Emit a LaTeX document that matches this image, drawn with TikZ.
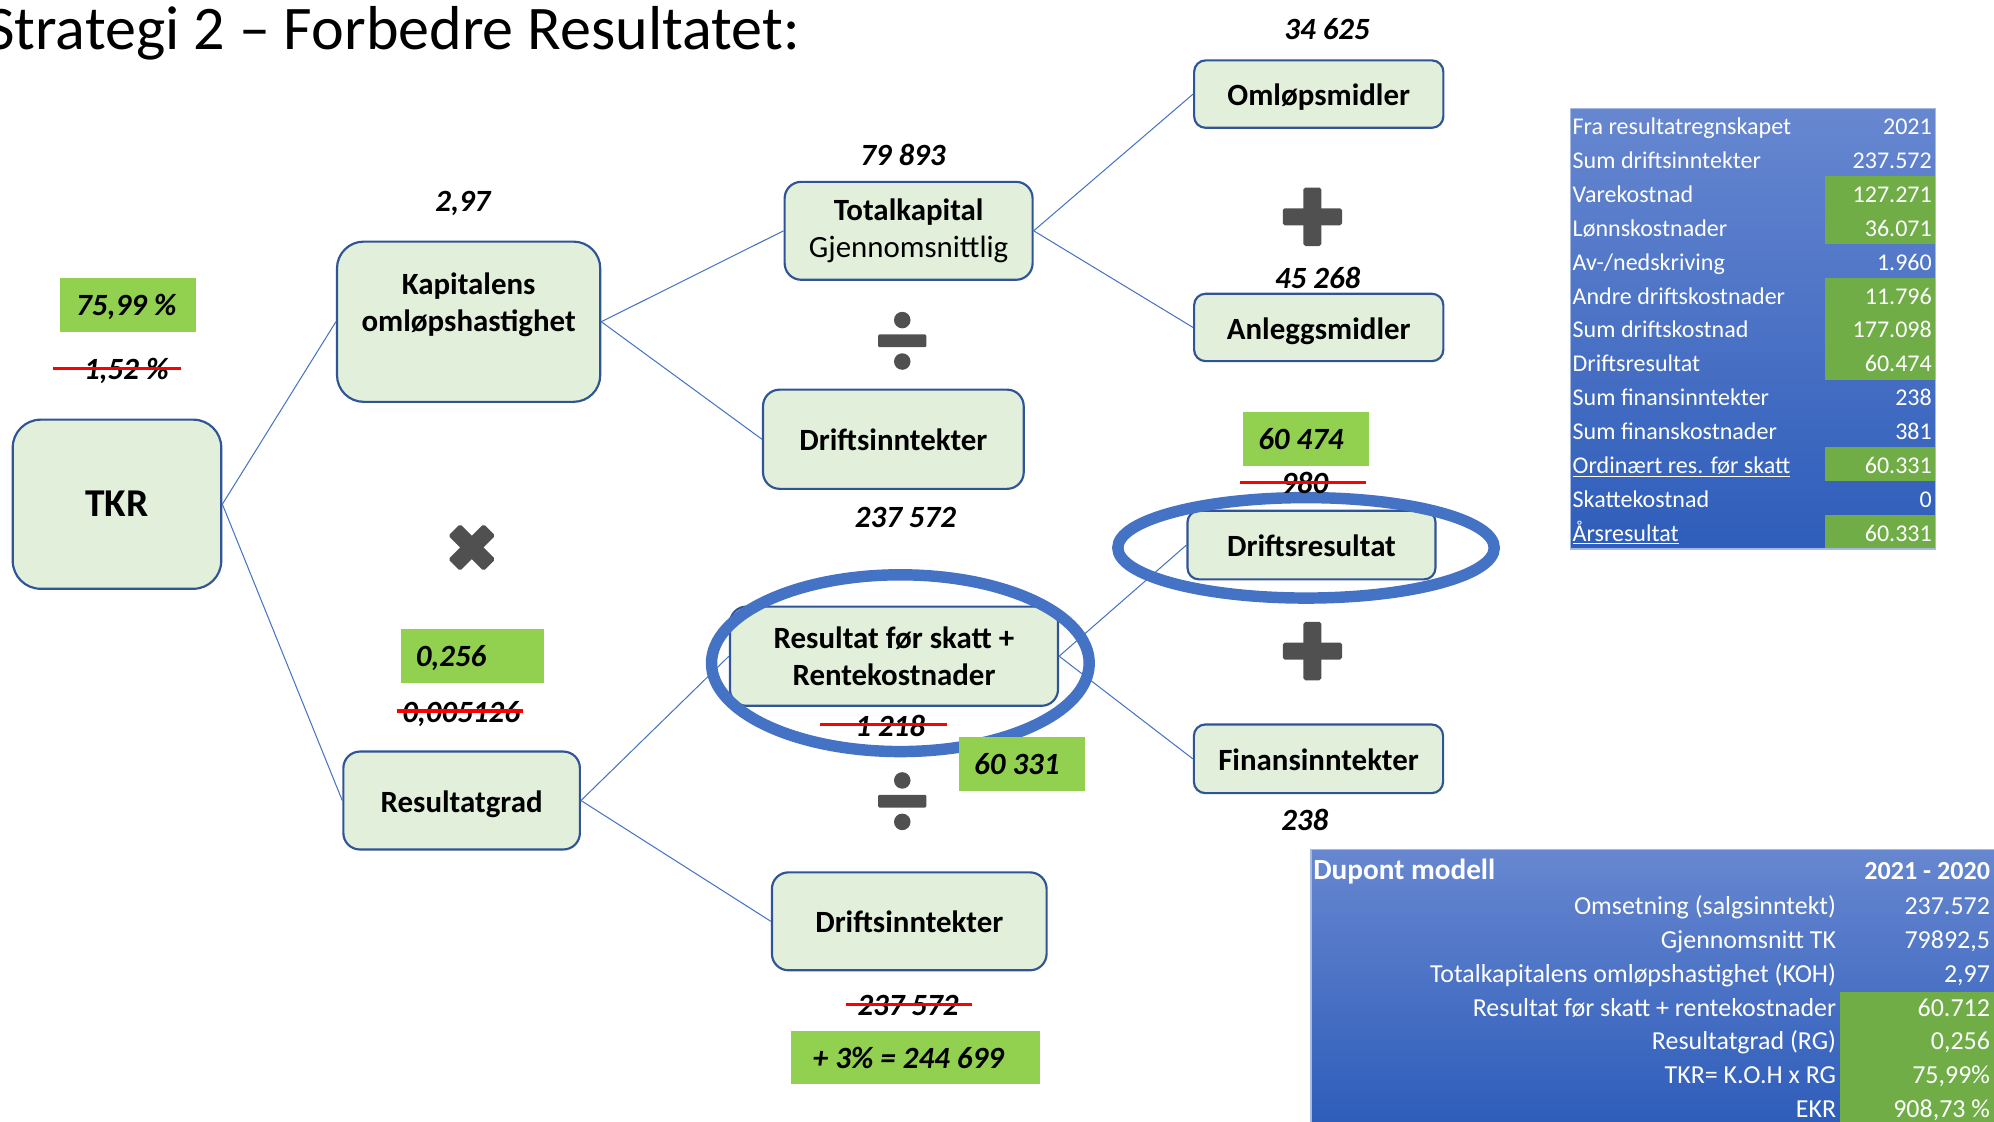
\documentclass[tikz,border=0pt]{standalone}
\usepackage{fontspec}
\setmainfont{Carlito}
\definecolor{boxgreen}{RGB}{226,239,218}
\definecolor{boxblue}{RGB}{47,85,151}
\definecolor{linkblue}{RGB}{68,114,196}
\definecolor{labgreen}{RGB}{146,208,80}
\definecolor{tabgreen}{RGB}{112,173,71}
\definecolor{opgray}{RGB}{80,80,80}
\definecolor{tabtop}{RGB}{103,135,208}
\definecolor{tabbot}{RGB}{46,93,186}
\definecolor{tabedge}{RGB}{165,185,225}
\newcommand\nodefont{\fontsize{24.3}{29}\selectfont\bfseries}
\newcommand\labfont{\fontsize{24.3}{28}\selectfont\bfseries\itshape}
\tikzset{
 plussym/.pic={
  \fill[opgray, rounded corners=1.5pt] (-7,-23) rectangle (7,23);
  \fill[opgray, rounded corners=1.5pt] (-23.3,-6.7) rectangle (23.3,6.7);
 },
 divsym/.pic={
  \fill[opgray, rounded corners=1pt] (-19,-5) rectangle (19,5);
  \fill[opgray] (0,-16.3) circle (6.5pt);
  \fill[opgray] (0,16.3) circle (6.5pt);
 },
 mulsym/.pic={
  \begin{scope}[rotate=45]
  \fill[opgray, rounded corners=1.5pt] (-6.5,-19.6) rectangle (6.5,19.6);
  \fill[opgray, rounded corners=1.5pt] (-19.6,-6.5) rectangle (19.6,6.5);
  \end{scope}
 }
}
\begin{document}
\begin{tikzpicture}[x=1pt,y=-1pt,
  box/.style={draw=boxblue, line width=1.7pt, fill=boxgreen, inner sep=0pt, align=center, font=\nodefont},
  one/.style={text height=18.2pt, text depth=0pt},
  link/.style={draw=linkblue, line width=0.8pt},
  lab/.style={font=\labfont, inner sep=0pt, text height=15.6pt, text depth=0pt},
  glab/.style={fill=labgreen, inner sep=0pt},
  strike/.style={draw=red, line width=2.6pt},
  ring/.style={draw=linkblue, line width=9pt},
  tabtxt/.style={text=white, inner sep=0pt, font=\fontsize{18.9}{22}\selectfont},
  dutxt/.style={text=white, inner sep=0pt, font=\fontsize{20.4}{24}\selectfont}
]
\useasboundingbox (0,0) rectangle (1568,882);

% title
\node[anchor=base west, inner sep=0pt, font=\fontsize{48.8}{56}\selectfont] (title) at (-11,39) {Strategi 2 – Forbedre Resultatet:};

% boxes
\node[box, minimum width=164pt, minimum height=133pt, rounded corners=22pt, font=\fontsize{31}{36}\selectfont\bfseries, text height=20pt, text depth=0pt] (tkr) at (92,396.5) {TKR};
\node[box, minimum width=207pt, minimum height=126pt, rounded corners=21pt] (kap) at (368.5,253) {};
\node[font=\nodefont, align=center, inner sep=0pt] (kaptxt) at (368.5,240) {Kapitalens\\omløpshastighet};
\node[box, minimum width=195pt, minimum height=77pt, rounded corners=13pt] (tot) at (714.5,181.5) {Totalkapital\\\mdseries Gjennomsnittlig};
\node[box, one, minimum width=205pt, minimum height=78pt, rounded corners=13pt] (din1) at (702.5,345.4) {Driftsinntekter};
\node[box, one, minimum width=196pt, minimum height=53pt, rounded corners=9pt] (oml) at (1037,74) {Omløpsmidler};
\node[box, one, minimum width=196pt, minimum height=53pt, rounded corners=9pt] (anl) at (1037,257.5) {Anleggsmidler};
\node[box, one, minimum width=195pt, minimum height=54pt, rounded corners=9pt] (dres) at (1031.3,428.6) {Driftsresultat};
\node[box, minimum width=258pt, minimum height=78pt, rounded corners=13pt] (res) at (703,516) {Resultat før skatt +\\Rentekostnader};
\node[box, one, minimum width=196pt, minimum height=54pt, rounded corners=9pt] (fin) at (1036.8,596.7) {Finansinntekter};
\node[box, one, minimum width=186pt, minimum height=77pt, rounded corners=13pt] (rg) at (363,629.5) {Resultatgrad};
\node[box, one, minimum width=216pt, minimum height=77pt, rounded corners=13pt] (din2) at (715,724.5) {Driftsinntekter};

% connectors
\draw[link] (tkr.east) -- (kap.west);
\draw[link] (tkr.east) -- (rg.west);
\draw[link] (kap.east) -- (tot.west);
\draw[link] (kap.east) -- (din1.west);
\draw[link] (tot.east) -- (oml.west);
\draw[link] (tot.east) -- (anl.west);
\draw[link] (rg.east) -- (res.west);
\draw[link] (rg.east) -- (din2.west);
\draw[link] (res.east) -- (dres.west);
\draw[link] (res.east) -- (fin.west);

% operators
\pic at (1032,170.5) {plussym};
\pic at (1032,512) {plussym};
\pic at (709.5,268) {divsym};
\pic at (709.5,630) {divsym};
\pic at (371,430.5) {mulsym};

% rings
\draw[ring] (708,521.5) ellipse [x radius=148.5pt, y radius=69.5pt];
\draw[ring] (1027,430.8) ellipse [x radius=148pt, y radius=39.5pt];

% plain labels
\node[lab] (v297) at (364,158.5) {2,97};
\node[lab] (v79893) at (710,122.5) {79 893};
\node[lab] (v34625) at (1043.6,23) {34 625};
\node[lab] (v45268) at (1036.2,219) {45 268};
\node[lab] (v237572a) at (712,407) {237 572};
\node[lab] (v238) at (1026,645.3) {238};

% green labels
\node[glab, minimum width=106.7pt, minimum height=42pt] (g7599) at (100.6,240) {};
\node[lab] (g7599t) at (99.3,240) {75,99 \%};
\node[glab, minimum width=112.4pt, minimum height=42pt] (g0256) at (371.6,516) {};
\node[lab] (g0256t) at (354.7,516) {0,256};
\node[glab, minimum width=99pt, minimum height=42pt] (g60474) at (1026.9,345.1) {};
\node[lab] (g60474t) at (1023,346) {60 474};
\node[glab, minimum width=99pt, minimum height=42pt] (g60331) at (803.5,600.7) {};
\node[lab] (g60331t) at (799.6,601.6) {60 331};
\node[glab, minimum width=196pt, minimum height=42pt] (g3pct) at (719.8,831.7) {};
\node[lab] (g3pctt) at (714.3,832.3) {+ 3\% = 244 699};

% struck labels
\node[lab] (s152) at (99.3,291) {1,52 \%};
\draw[strike] (42,290) -- (142,290);
\node[lab] (s005126) at (362.6,560) {0,005126};
\draw[strike] (312,559) -- (411,559);
\node[lab] (s980) at (1026,380) {980};
\draw[strike] (974.8,379.6) -- (1074.3,379.6);
\node[lab] (s1218) at (700,571) {1 218};
\draw[strike] (645,569.6) -- (745,569.6);
\node[lab] (s237572) at (714,790.5) {237 572};
\draw[strike] (665,789.8) -- (764.5,789.8);

% table 1
\shade[top color=tabtop, bottom color=tabbot] (1235,85.2) rectangle (1522,431.8);
\fill[tabgreen] (1435,138.5) rectangle (1522,191.8);
\fill[tabgreen] (1435,218.5) rectangle (1522,298.5);
\fill[tabgreen] (1435,351.8) rectangle (1522,378.5);
\fill[tabgreen] (1435,405.1) rectangle (1522,431.8);
\draw[tabedge, line width=1pt] (1235,85.2) rectangle (1522,431.8);
\foreach \i/\l/\v in {0/{Fra resultatregnskapet}/2021, 1/{Sum driftsinntekter}/237.572, 2/{Varekostnad}/127.271, 3/{Lønnskostnader}/36.071, 4/{Av-/nedskriving}/1.960, 5/{Andre driftskostnader}/11.796, 6/{Sum driftskostnad}/177.098, 7/{Driftsresultat}/60.474, 8/{Sum finansinntekter}/238, 9/{Sum finanskostnader}/381, 10/{\underline{Ordinært res. før skatt}}/60.331, 11/{Skattekostnad}/0, 12/{\underline{Årsresultat}}/60.331}{
  \node[tabtxt, anchor=base west] (ta\i) at (1236.5,105.8+26.66*\i) {\l};
  \node[tabtxt, anchor=base east] (tb\i) at (1519.3,105.8+26.66*\i) {\v};
}

% table 2
\shade[top color=tabtop, bottom color=tabbot] (1031,668) rectangle (1568,882);
\fill[tabgreen] (1446.8,779.8) rectangle (1568,882);
\draw[tabedge, line width=1pt] (1031,882) -- (1031,668) -- (1568,668);
\node[text=white, inner sep=0pt, anchor=base west, font=\fontsize{23}{27}\selectfont\bfseries] (duhead) at (1032.5,691.5) {Dupont modell};
\node[text=white, inner sep=0pt, anchor=base east, font=\fontsize{20.5}{24}\selectfont\bfseries] (duyear) at (1565,691.5) {2021 - 2020};
\foreach \k/\l/\v in {0/{Omsetning (salgsinntekt)}/{237.572}, 1/{Gjennomsnitt TK}/{79892,5}, 2/{Totalkapitalens omløpshastighet (KOH)}/{2,97}, 3/{Resultat før skatt + rentekostnader}/{60.712}, 4/{Resultatgrad (RG)}/{0,256}, 5/{TKR= K.O.H x RG}/{75,99\%}, 6/{EKR}/{908,73 \%}}{
  \node[dutxt, anchor=base east] (da\k) at (1444,719.5+26.5*\k) {\l};
  \node[dutxt, anchor=base east] (db\k) at (1565,719.5+26.5*\k) {\v};
}
\end{tikzpicture}
\end{document}
